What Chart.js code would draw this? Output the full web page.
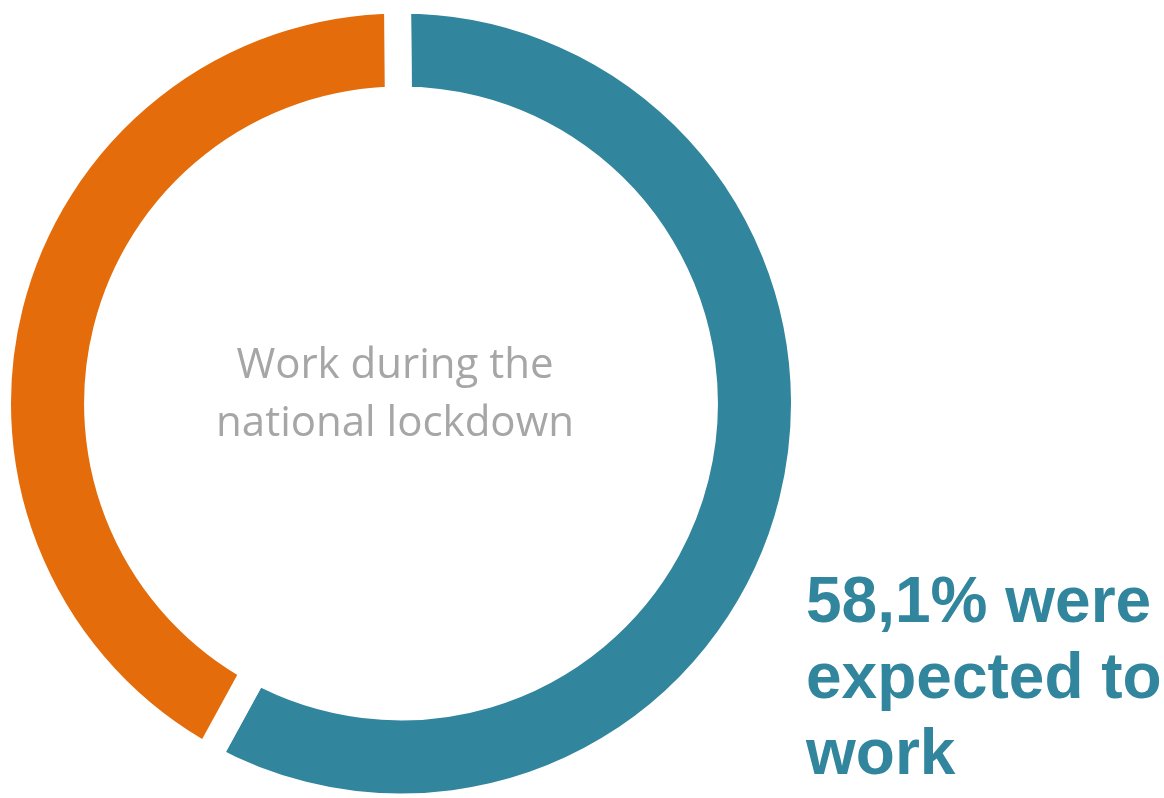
<!DOCTYPE html>
<html>
<head>
<meta charset="utf-8">
<script src="https://cdn.jsdelivr.net/npm/chart.js@4/dist/chart.umd.min.js"></script>
<style>
  html, body { margin: 0; padding: 0; background: #fff; }
  #wrap { position: relative; width: 1164px; height: 798px; }
</style>
</head>
<body>
<div id="wrap"><canvas id="workChart" width="1164" height="798"></canvas></div>
<script>
const labels = ['Expected to work', 'Not expected to work'];
const shares = [58.1, 41.9];
const colors = ['#31859c', '#e46c0a'];
const centerLines = ['Work during the', 'national lockdown'];
const calloutLines = ['58,1% were', 'expected to', 'work'];

const textPlugin = {
  id: 'texts',
  afterDraw(chart) {
    const c = chart.ctx;
    const arc = chart.getDatasetMeta(0).data[0];
    c.save();
    c.textAlign = 'center';
    c.textBaseline = 'alphabetic';
    c.fillStyle = '#a6a6a6';
    c.font = '42px "Open Sans"';
    centerLines.forEach((t, i) => c.fillText(t, arc.x - 6, 378 + i * 58));
    c.textAlign = 'left';
    c.fillStyle = colors[0];
    c.font = 'bold 64px "Liberation Sans", Arial';
    calloutLines.forEach((t, i) => c.fillText(t, 806, 622 + i * 76));
    c.restore();
  }
};

const ctx = document.getElementById('workChart').getContext('2d');
const chart = new Chart(ctx, {
  type: 'doughnut',
  data: {
    labels: labels,
    datasets: [{
      data: shares,
      backgroundColor: colors,
      borderColor: '#ffffff',
      borderWidth: 27,
      hoverOffset: 0
    }]
  },
  options: {
    responsive: false,
    animation: false,
    radius: 403.5,
    cutout: '75.2%',
    rotation: -0.5,
    layout: { padding: { left: 0, right: 362, top: 9, bottom: 0 } },
    plugins: {
      legend: { display: false },
      tooltip: { enabled: false }
    }
  },
  plugins: [textPlugin]
});
</script>
</body>
</html>
